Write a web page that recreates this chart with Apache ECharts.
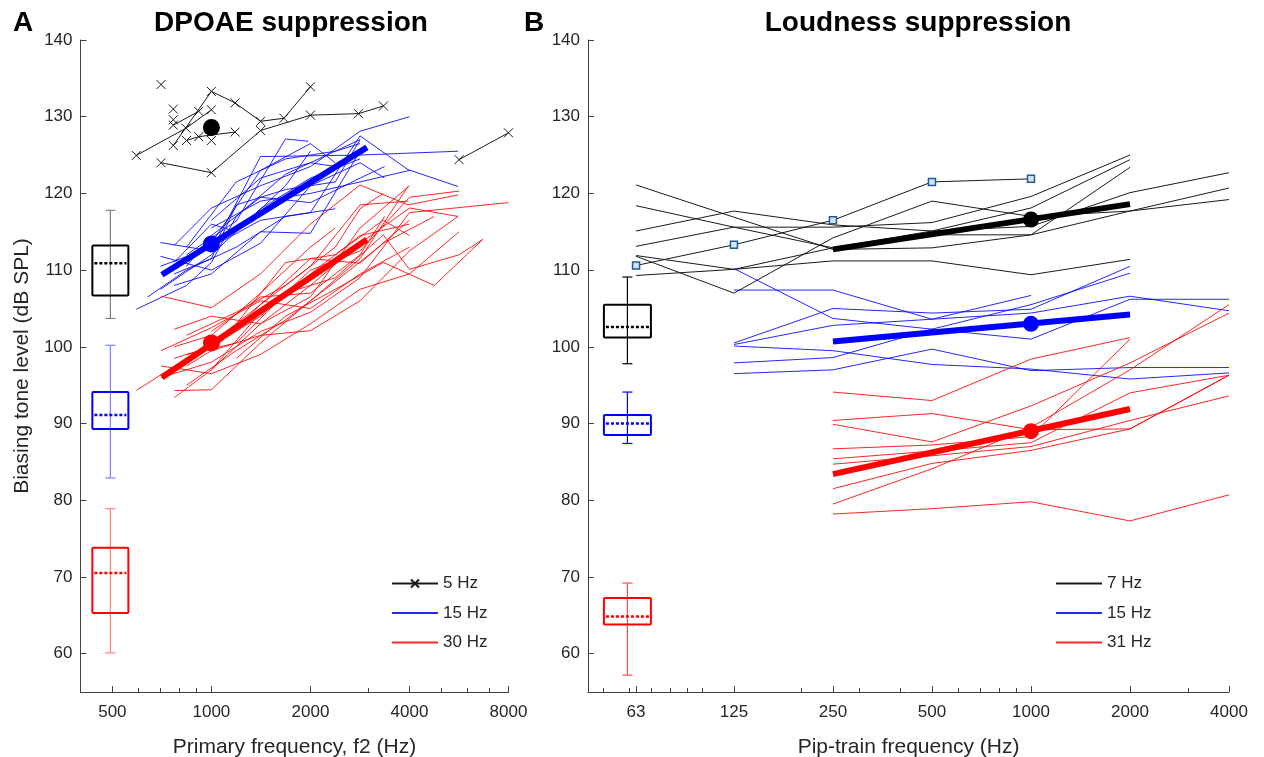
<!DOCTYPE html>
<html><head><meta charset="utf-8">
<script src="https://cdn.jsdelivr.net/npm/echarts@6/dist/echarts.min.js"></script>
<style>html,body{margin:0;padding:0;background:#fff}#c{width:1264px;height:757px}</style>
</head><body><div id="c"></div>
<script>
// ---------- tick labels ----------
const leftTicks = [500, 1000, 2000, 4000, 8000];
const leftMinor = [600, 700, 800, 900, 3000, 5000, 6000, 7000];
const rightTicks = [63, 125, 250, 500, 1000, 2000, 4000];
const rightMinor = [50, 60, 70, 80, 90, 100, 200, 300, 400, 600, 700, 800, 900, 3000];
const yTicks = [60, 70, 80, 90, 100, 110, 120, 130, 140];

// ---------- Panel A: DPOAE suppression (freq Hz, dB SPL) ----------
const dp5Hz = [
  [[591,124.95],[837,128.5],[1000,130.9]],
  [[766,126.25],[1000,133.3],[1180,131.8],[1411,129.4],[1661,129.8],[2000,133.9]],
  [[766,128.9],[915,130.7]],
  [[840,126.9],[915,127.4],[1180,128.0]],
  [[703,124.0],[1000,122.7],[1411,128.2],[2000,130.2],[2800,130.4],[3333,131.4]],
  [[5660,124.4],[8000,127.9]],
  [[703,134.2]],
  [[766,131.0]],
  [[766,129.6]],
  [[1000,126.9]]
];
const dp15Hz = [
  [[591,104.9],[840,108.0],[1000,111.0],[1190,117.0],[1680,122.5],[2830,127.0]],
  [[700,113.6],[1000,112.5],[1410,124.8],[2830,125.0],[5620,125.5]],
  [[770,113.2],[1000,118.1],[1410,121.0],[2000,123.5],[2830,128.1],[4000,130.0]],
  [[840,112.0],[1190,116.4],[1680,127.1],[1970,126.8]],
  [[700,110.5],[1000,113.0],[1410,116.5],[2000,117.5],[2830,127.5],[3960,123.1],[5620,120.9]],
  [[770,109.5],[1000,111.5],[1190,118.5],[1680,120.5],[2380,121.5],[2830,127.0]],
  [[840,110.5],[1000,114.5],[1410,119.5],[2000,118.8],[2830,122.0],[3360,123.5]],
  [[700,111.8],[1000,110.0],[1410,113.5],[2000,121.0],[2830,124.0],[3360,122.0]],
  [[1000,116.5],[1410,122.0],[2000,124.0],[2380,123.5]],
  [[770,108.0],[1000,109.5],[1410,115.0],[2000,114.8],[2830,125.5]],
  [[640,106.5],[840,110.0],[1190,113.0],[1680,117.0],[2380,118.0]],
  [[1000,113.5],[1410,123.0],[2000,126.5],[2380,124.0]],
  [[700,107.5],[1000,112.0],[1410,118.0],[2000,122.0],[2830,124.5]],
  [[840,113.0],[1190,121.5],[1680,124.5],[2380,125.5],[2830,126.5]],
  [[1000,115.5],[1410,119.0],[2000,120.0],[2830,121.5],[4000,123.0]],
  [[770,111.0],[1000,116.0],[1190,115.0],[1680,121.0],[2000,125.5]]
];
const dp30Hz = [
  [[591,94.3],[840,98.5],[1000,100.5],[1410,105.5],[2000,110.5],[2830,118.5],[3960,119.0]],
  [[703,106.6],[1000,105.1],[1410,109.5],[2000,116.0],[2830,121.1],[3960,118.5],[5620,119.8]],
  [[772,102.3],[1000,104.0],[1410,103.0],[2000,108.0],[2830,113.5],[4000,118.1],[5620,117.0]],
  [[772,94.3],[1000,94.4],[1410,100.5],[2000,106.0],[2830,111.5],[3960,120.9]],
  [[772,93.4],[1000,97.0],[1410,104.5],[2000,109.5],[2830,114.5],[4000,116.0]],
  [[840,99.0],[1190,100.5],[1680,107.0],[2380,109.0],[3330,114.6],[4000,110.1],[5660,112.0],[6680,114.0]],
  [[1000,99.5],[1410,101.5],[2000,102.1],[2830,106.0],[4000,112.5],[5620,117.0]],
  [[840,97.5],[1000,99.5],[1410,105.5],[2000,111.5],[2830,110.9],[4000,116.5]],
  [[703,96.0],[1000,98.0],[1410,102.0],[2000,104.5],[2830,109.0],[4000,117.5],[8000,118.8]],
  [[840,101.5],[1190,104.5],[1680,108.0],[2380,113.0],[2830,118.0],[3330,120.0]],
  [[1000,102.0],[1410,106.5],[2000,107.0],[2830,112.0],[3360,117.0]],
  [[770,100.0],[1000,101.5],[1410,107.0],[2000,113.0],[2380,115.5]],
  [[703,97.5],[1000,96.5],[1410,99.0],[2000,103.0],[2830,107.5],[4000,109.5],[5660,115.0]],
  [[1190,98.5],[1680,104.0],[2380,107.5],[3330,111.0],[4760,108.0],[6680,114.0]],
  [[840,95.0],[1190,99.5],[1680,103.5],[2380,108.5],[3330,113.5],[4760,117.0]],
  [[1000,97.0],[1410,103.0],[2000,106.5],[2830,115.5],[4000,121.0]],
  [[770,98.5],[1000,100.0],[1410,104.0],[2000,110.0],[2830,112.5],[4000,119.5],[5660,120.3]],
  [[1190,103.0],[1680,111.0],[2380,112.0],[3330,116.5],[4000,114.5]],
  [[703,99.5],[1000,102.5],[1410,106.0],[2000,105.0],[2830,109.5],[4000,113.0]]
];
const dpFit15 = [[707,109.4],[2970,126.0]];
const dpFit30 = [[707,96.0],[2970,114.0]];
const dpMean5 = [[1000,128.6]];
const dpMean15 = [[1000,113.4]];
const dpMean30 = [[1000,100.5]];
// box: [freq, low whisker, q1, median, q3, high whisker]
const dpBox5 = [[493,103.7,106.7,110.9,113.2,117.8]];
const dpBox15 = [[493,82.9,89.3,91.1,94.1,100.2]];
const dpBox30 = [[493,60.1,65.3,70.5,73.8,78.9]];

// ---------- Panel B: Loudness suppression ----------
const ld7Hz = [
  [[63,121.1],[125,116.9],[250,112.7],[500,112.9],[1000,114.6],[2000,123.4]],
  [[63,118.4],[125,115.6],[250,112.9],[500,115.1],[1000,118.1],[2000,124.4]],
  [[63,115.1],[125,117.7],[250,115.9],[500,115.1],[1000,115.7],[2000,120.1],[4000,122.7]],
  [[63,113.1],[125,115.6],[250,115.6],[500,116.2],[1000,119.6],[2000,125.0]],
  [[63,111.9],[125,110.1],[250,111.2],[500,111.2],[1000,109.4],[2000,111.4]],
  [[63,111.8],[125,107.0],[250,114.2],[500,119.0],[1000,117.0],[2000,117.7],[4000,120.7]],
  [[63,109.3],[125,110.1],[250,112.9],[500,114.6],[1000,114.6],[2000,117.7],[4000,119.2]]
];
const ld7HzSquares = [[63,110.6],[125,113.3],[250,116.5],[500,121.5],[1000,121.9]];
const ld15Hz = [
  [[125,107.4],[250,107.4],[500,103.6],[1000,104.4],[2000,106.6],[4000,104.7]],
  [[125,110.2],[250,103.7],[500,102.3],[1000,101.0],[2000,106.2],[4000,106.2]],
  [[125,100.5],[250,105.0],[500,104.4],[1000,104.9],[2000,110.5]],
  [[125,100.3],[250,102.8],[500,103.6],[1000,106.7]],
  [[125,100.1],[250,99.5],[500,97.7],[1000,97.1],[2000,95.8],[4000,96.6]],
  [[125,97.9],[250,98.6],[500,102.3],[1000,105.5],[2000,109.6]],
  [[125,96.5],[250,97.0],[500,99.7],[1000,96.9],[2000,97.3],[4000,97.3]]
];
const ld31Hz = [
  [[250,94.1],[500,93.0],[1000,98.4],[2000,101.2]],
  [[250,90.4],[500,91.3],[1000,89.2],[2000,89.3],[4000,96.3]],
  [[250,89.9],[500,87.6],[1000,92.3],[2000,97.9],[4000,104.4]],
  [[250,86.7],[500,87.2],[1000,88.3],[2000,101.0]],
  [[250,85.4],[500,86.4],[1000,87.5],[2000,94.0],[4000,96.3]],
  [[250,84.7],[500,85.8],[1000,87.0],[2000,90.4],[4000,93.6]],
  [[250,79.5],[500,84.1],[1000,89.5],[2000,97.0],[4000,105.5]],
  [[250,81.5],[500,84.8],[1000,86.5],[2000,89.3],[4000,96.3]],
  [[250,78.2],[500,78.9],[1000,79.8],[2000,77.3],[4000,80.7]]
];
const ldFit7 = [[250,112.7],[2000,118.6]];
const ldFit15 = [[250,100.7],[2000,104.2]];
const ldFit31 = [[250,83.4],[2000,91.9]];
const ldMean7 = [[1000,116.6]];
const ldMean15 = [[1000,103.0]];
const ldMean31 = [[1000,89.0]];
const ldBox7 = [[59.3,97.8,101.2,102.6,105.5,109.1]];
const ldBox15 = [[59.3,87.4,88.5,90.0,91.1,94.1]];
const ldBox31 = [[59.3,57.2,63.8,64.85,67.25,69.2]];

// ---------- helpers ----------
const lg = Math.log2;
const xy = pts => pts.map(p => [lg(p[0]), p[1]]);
const boxXY = rows => rows.map(r => [lg(r[0])].concat(r.slice(1)));
const FONT = "'Liberation Sans', Arial, sans-serif";
const TXT = '#262626';
const AX = '#404040';
const XMARK = 'path://M0,0L10,10M10,0L0,10';
const NOMARK = 'path://M0,0L1,1';

function xAxisPair(gridIndex, fmin, fmax, ticks, minor, name) {
  const mn = lg(fmin), mx = lg(fmax);
  return [
    { type: 'value', gridIndex, min: mn, max: mx, name, nameLocation: 'middle', nameGap: 45,
      nameTextStyle: { fontSize: 21, color: TXT, fontFamily: FONT },
      axisLine: { lineStyle: { color: AX, width: 1 } },
      axisTick: { inside: true, length: 6, lineStyle: { color: AX }, customValues: ticks.map(lg) },
      axisLabel: { customValues: ticks.map(lg), margin: 12, fontSize: 17, color: TXT, fontFamily: FONT,
        formatter: v => String(Math.round(Math.pow(2, v))) },
      splitLine: { show: false } },
    { type: 'value', gridIndex, min: mn, max: mx, position: 'bottom',
      axisLine: { show: false },
      axisTick: { inside: true, length: 4, lineStyle: { color: AX }, customValues: minor.map(lg) },
      axisLabel: { show: false }, splitLine: { show: false } }
  ];
}
function yAxis(gridIndex, name) {
  return { type: 'value', gridIndex, min: 55, max: 140, name: name || '', nameLocation: 'middle', nameGap: 48,
    nameTextStyle: { fontSize: 21, color: TXT, fontFamily: FONT },
    axisLine: { show: true, lineStyle: { color: AX, width: 1 } },
    axisTick: { show: true, inside: true, length: 6, lineStyle: { color: AX }, customValues: yTicks },
    axisLabel: { customValues: yTicks, margin: 8, fontSize: 17, color: TXT, fontFamily: FONT },
    splitLine: { show: false } };
}

const series = [];
function addLines(groups, name, xi, yi, color, width, opacity, sym) {
  groups.forEach(g => series.push({
    type: 'line', name, xAxisIndex: xi, yAxisIndex: yi, data: xy(g),
    symbol: sym ? sym : NOMARK, symbolSize: sym ? 9 : 1, showSymbol: !!sym,
    lineStyle: { color, width, opacity },
    itemStyle: { color: 'rgba(0,0,0,0)', borderColor: sym ? color : 'rgba(0,0,0,0)', borderWidth: sym ? 1 : 0 },
    emphasis: { disabled: true }, z: 2
  }));
}
function addFit(pts, name, xi, yi, color) {
  series.push({ type: 'line', name, xAxisIndex: xi, yAxisIndex: yi, data: xy(pts), symbol: 'none',
    lineStyle: { color, width: 6, cap: 'butt' }, emphasis: { disabled: true }, z: 5 });
}
function addMean(pts, name, xi, yi, color, size) {
  series.push({ type: 'scatter', name, xAxisIndex: xi, yAxisIndex: yi, data: xy(pts), symbol: 'circle',
    symbolSize: size, itemStyle: { color, opacity: 1 }, emphasis: { disabled: true }, z: 6 });
}
function addBox(rows, name, xi, yi, boxColor, whiskColor, boxW) {
  series.push({ type: 'custom', name, xAxisIndex: xi, yAxisIndex: yi, data: boxXY(rows), clip: false,
    encode: { x: 0, y: [1, 2, 3, 4, 5] }, z: 4,
    renderItem: (params, api) => {
      const x = api.value(0);
      const lo = api.coord([x, api.value(1)]);
      const q1 = api.coord([x, api.value(2)]);
      const md = api.coord([x, api.value(3)]);
      const q3 = api.coord([x, api.value(4)]);
      const hi = api.coord([x, api.value(5)]);
      const cx = lo[0], hw = boxW / 2, cw = 5;
      return { type: 'group', children: [
        { type: 'line', shape: { x1: cx, y1: hi[1], x2: cx, y2: lo[1] }, style: { stroke: whiskColor, lineWidth: 1.2 } },
        { type: 'line', shape: { x1: cx - cw, y1: hi[1], x2: cx + cw, y2: hi[1] }, style: { stroke: whiskColor, lineWidth: 1.2 } },
        { type: 'line', shape: { x1: cx - cw, y1: lo[1], x2: cx + cw, y2: lo[1] }, style: { stroke: whiskColor, lineWidth: 1.2 } },
        { type: 'rect', shape: { x: cx - hw, y: q3[1], width: boxW, height: q1[1] - q3[1], r: 1 },
          style: { fill: 'none', stroke: boxColor, lineWidth: 2 } },
        { type: 'line', shape: { x1: cx - hw + 2, y1: md[1], x2: cx + hw - 2, y2: md[1] },
          style: { stroke: boxColor, lineWidth: 2.5, lineDash: [3, 2] } }
      ] };
    }
  });
}

// Panel A
addLines(dp5Hz, '5 Hz', 0, 0, '#1a1a1a', 1, 1, XMARK);
addLines(dp15Hz, '15 Hz', 0, 0, '#0000ff', 1, 0.85);
addLines(dp30Hz, '30 Hz', 0, 0, '#ff0000', 1, 0.85);
addFit(dpFit15, 'fitA15', 0, 0, '#0000ff');
addFit(dpFit30, 'fitA30', 0, 0, '#ff0000');
addMean(dpMean5, 'meanA5', 0, 0, '#000000', 17);
addMean(dpMean15, 'meanA15', 0, 0, '#0000ff', 17);
addMean(dpMean30, 'meanA30', 0, 0, '#ff0000', 17);
addBox(dpBox5, 'boxA5', 0, 0, '#000000', '#808080', 36);
addBox(dpBox15, 'boxA15', 0, 0, '#0000ff', '#8080ff', 36);
addBox(dpBox30, 'boxA30', 0, 0, '#ff0000', '#ff8080', 36);

// Panel B
addLines(ld7Hz, '7 Hz', 2, 1, '#1a1a1a', 1, 1);
addLines(ld15Hz, '15 Hz', 2, 1, '#0000ff', 1, 0.85);
addLines(ld31Hz, '31 Hz', 2, 1, '#ff0000', 1, 0.85);
series.push({ type: 'line', name: 'sqB7', xAxisIndex: 2, yAxisIndex: 1, data: xy(ld7HzSquares),
  symbol: 'rect', symbolSize: 7, showSymbol: true, lineStyle: { color: '#1a1a1a', width: 1 },
  itemStyle: { color: '#d6e4f2', borderColor: '#1f5c99', borderWidth: 1.5 }, emphasis: { disabled: true }, z: 3 });
addFit(ldFit7, 'fitB7', 2, 1, '#000000');
addFit(ldFit15, 'fitB15', 2, 1, '#0000ff');
addFit(ldFit31, 'fitB31', 2, 1, '#ff0000');
addMean(ldMean7, 'meanB7', 2, 1, '#000000', 16);
addMean(ldMean15, 'meanB15', 2, 1, '#0000ff', 16);
addMean(ldMean31, 'meanB31', 2, 1, '#ff0000', 16);
addBox(ldBox7, 'boxB7', 2, 1, '#000000', '#000000', 47);
addBox(ldBox15, 'boxB15', 2, 1, '#0000ff', '#0000ff', 47);
addBox(ldBox31, 'boxB31', 2, 1, '#ff0000', '#ff5050', 47);

const legendCommon = { orient: 'vertical', itemWidth: 46, itemHeight: 10, itemGap: 12.5, padding: 0, selectedMode: false,
  textStyle: { fontSize: 17, color: TXT, fontFamily: FONT } };

const option = {
  animation: false,
  backgroundColor: '#ffffff',
  textStyle: { fontFamily: FONT },
  title: [
    { text: 'A', left: 8, top: 4, textStyle: { fontSize: 28, fontWeight: 'bold', color: '#000', fontFamily: FONT } },
    { text: 'DPOAE suppression', left: 286, top: 4, textAlign: 'center', textStyle: { fontSize: 28, fontWeight: 'bold', color: '#000', fontFamily: FONT } },
    { text: 'B', left: 519, top: 4, textStyle: { fontSize: 28, fontWeight: 'bold', color: '#000', fontFamily: FONT } },
    { text: 'Loudness suppression', left: 913, top: 4, textAlign: 'center', textStyle: { fontSize: 28, fontWeight: 'bold', color: '#000', fontFamily: FONT } }
  ],
  legend: [
    Object.assign({ data: ['5 Hz', '15 Hz', '30 Hz'], left: 391, top: 575 }, legendCommon),
    Object.assign({ data: ['7 Hz', '15 Hz', '31 Hz'], left: 1055, top: 575 }, legendCommon)
  ],
  grid: [
    { left: 80.5, right: 1264 - 508.5, top: 40, bottom: 65, containLabel: false, outerBoundsMode: 'none' },
    { left: 588, right: 1264 - 1229, top: 40, bottom: 65, containLabel: false, outerBoundsMode: 'none' }
  ],
  xAxis: [].concat(
    xAxisPair(0, 400, 8000, leftTicks, leftMinor, 'Primary frequency, f2 (Hz)'),
    xAxisPair(1, 45, 4000, rightTicks, rightMinor, 'Pip-train frequency (Hz)')
  ),
  yAxis: [ yAxis(0, 'Biasing tone level (dB SPL)'), yAxis(1) ],
  series
};
const chart = echarts.init(document.getElementById('c'));
chart.setOption(option);
</script></body></html>
